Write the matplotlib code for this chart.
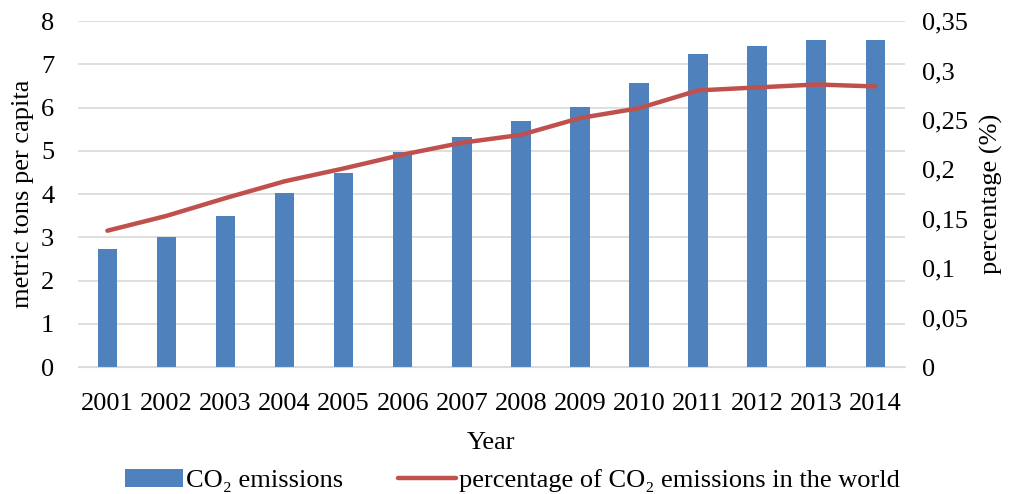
import numpy as np
import matplotlib
matplotlib.use("Agg")
import matplotlib.pyplot as plt
from matplotlib.ticker import FuncFormatter

plt.rcParams['font.family'] = ['Liberation Serif', 'DejaVu Serif']

years = ["2001", "2002", "2003", "2004", "2005", "2006", "2007",
         "2008", "2009", "2010", "2011", "2012", "2013", "2014"]
co2_per_capita = [2.73, 3.0, 3.5, 4.02, 4.5, 4.98, 5.33,
                  5.7, 6.02, 6.57, 7.25, 7.43, 7.57, 7.57]
world_share = [0.138, 0.153, 0.171, 0.188, 0.201, 0.215, 0.227,
               0.235, 0.252, 0.262, 0.280, 0.283, 0.286, 0.284]

bar_color = '#4F81BD'
line_color = '#C0504D'
fs = 19

fig = plt.figure(figsize=(10.11, 4.94), dpi=100)
ax = fig.add_axes([0.077, 0.257, 0.818, 0.7])
x = np.arange(len(years))

bars = ax.bar(x, co2_per_capita, width=0.33, color=bar_color, zorder=2,
              label='CO\u2082 emissions')
ax.set_ylim(0, 8)
ax.set_xlim(-0.5, len(years) - 0.5)
ax.set_yticks(range(0, 9))
ax.set_xticks(x)
ax.set_xticklabels(years)
ax.yaxis.grid(True, color='#D9D9D9', linewidth=1.2, zorder=0)
ax.set_axisbelow(True)
for s in ax.spines.values():
    s.set_visible(False)
ax.spines['bottom'].set_visible(True)
ax.spines['bottom'].set_color('#D9D9D9')
ax.tick_params(length=0, labelsize=fs)
ax.tick_params(axis='y', pad=17)
ax.tick_params(axis='x', pad=19)
ax.set_ylabel('metric tons per capita', fontsize=fs, labelpad=5)
ax.set_xlabel('Year', fontsize=fs, labelpad=12)

ax2 = ax.twinx()
line, = ax2.plot(x, world_share, color=line_color, linewidth=3.2,
                 solid_capstyle='round', zorder=3,
                 label='percentage of CO\u2082 emissions in the world')
ax2.set_ylim(0, 0.35)
ax2.set_yticks([0, 0.05, 0.1, 0.15, 0.2, 0.25, 0.3, 0.35])
ax2.yaxis.set_major_formatter(FuncFormatter(
    lambda v, p: ('%g' % round(v, 2)).replace('.', ',')))
for s in ax2.spines.values():
    s.set_visible(False)
ax2.tick_params(length=0, labelsize=fs, pad=12)
ax2.set_ylabel('percentage (%)', fontsize=fs, labelpad=9)

fig.legend([bars, line], [bars.get_label(), line.get_label()],
           loc='lower center', bbox_to_anchor=(0.507, -0.044), ncol=2,
           frameon=False, fontsize=fs, handlelength=2.2, handletextpad=0.1,
           columnspacing=2.1)

fig.savefig('out.png', dpi=100)
